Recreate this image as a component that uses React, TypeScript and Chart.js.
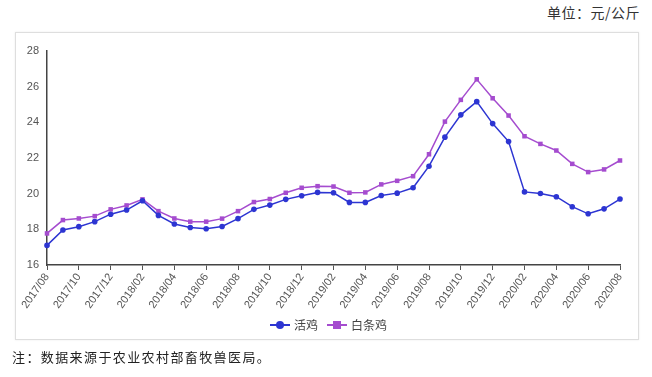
import React, { useEffect, useRef } from "react";
import { Chart, registerables } from "chart.js";

Chart.register(...registerables);

const months: string[] = [
  "2017/08", "2017/09", "2017/10", "2017/11", "2017/12", "2018/01", "2018/02",
  "2018/03", "2018/04", "2018/05", "2018/06", "2018/07", "2018/08", "2018/09",
  "2018/10", "2018/11", "2018/12", "2019/01", "2019/02", "2019/03", "2019/04",
  "2019/05", "2019/06", "2019/07", "2019/08", "2019/09", "2019/10", "2019/11",
  "2019/12", "2020/01", "2020/02", "2020/03", "2020/04", "2020/05", "2020/06",
  "2020/07", "2020/08",
];

const liveChicken: number[] = [
  17.1, 17.96, 18.15, 18.43, 18.85, 19.08, 19.6, 18.78, 18.3, 18.1, 18.03, 18.16,
  18.6, 19.12, 19.36, 19.68, 19.88, 20.07, 20.05, 19.51, 19.51, 19.9, 20.03, 20.33,
  21.54, 23.17, 24.42, 25.16, 23.93, 22.92, 20.1, 20.01, 19.83, 19.27, 18.87, 19.15,
  19.7,
];

const whiteChicken: number[] = [
  17.77, 18.52, 18.61, 18.74, 19.12, 19.34, 19.68, 19.02, 18.61, 18.43, 18.43, 18.6,
  19.02, 19.53, 19.7, 20.05, 20.33, 20.42, 20.4, 20.05, 20.07, 20.52, 20.72, 20.98,
  22.21, 24.04, 25.26, 26.41, 25.35, 24.38, 23.22, 22.79, 22.42, 21.67, 21.21, 21.36,
  21.86,
];

const seriesNames: string[] = ["活鸡", "白条鸡"];
const seriesColors: string[] = ["#2d35d2", "#a54ccf"];
const title = "单位：元/公斤";
const note = "注：数据来源于农业农村部畜牧兽医局。";

export default function App() {
  const ref = useRef<HTMLCanvasElement | null>(null);

  useEffect(() => {
    document.body.style.margin = "0";
    const canvas = ref.current;
    if (!canvas) return;
    const chart = new Chart(canvas, {
      type: "line",
      data: {
        labels: months,
        datasets: [
          {
            label: seriesNames[0],
            data: liveChicken,
            borderColor: seriesColors[0],
            backgroundColor: seriesColors[0],
            borderWidth: 1.5,
            pointStyle: "circle",
            pointRadius: 2.8,
            pointBorderWidth: 0,
            tension: 0,
          },
          {
            label: seriesNames[1],
            data: whiteChicken,
            borderColor: seriesColors[1],
            backgroundColor: seriesColors[1],
            borderWidth: 1.5,
            pointStyle: "rect",
            pointRadius: 3.2,
            pointBorderWidth: 0,
            tension: 0,
          },
        ],
      },
      options: {
        animation: false,
        responsive: false,
        devicePixelRatio: 1,
        layout: { padding: { left: 0, right: 32, top: 51, bottom: 0 } },
        plugins: {
          legend: { display: false },
          tooltip: { enabled: false },
        },
        scales: {
          x: {
            type: "category",
            offset: false,
            grid: {
              display: true,
              drawOnChartArea: false,
              drawTicks: true,
              tickLength: 5,
              color: "#555",
            },
            border: { display: true, color: "#444", width: 1.5 },
            ticks: {
              autoSkip: false,
              maxRotation: 55,
              minRotation: 55,
              padding: 1,
              color: "#555",
              font: { family: "'Liberation Sans', Arial, sans-serif", size: 11 },
              callback: (_v: any, i: number) => (i % 2 === 0 ? months[i] : null),
            },
            afterFit: (s: any) => {
              s.height = 112;
            },
          },
          y: {
            min: 16,
            max: 28,
            grid: { display: false, drawTicks: false },
            border: { display: true, color: "#444", width: 1.5 },
            ticks: {
              stepSize: 2,
              padding: 8,
              color: "#555",
              font: { family: "'Liberation Sans', Arial, sans-serif", size: 11 },
            },
            afterFit: (s: any) => {
              s.width = 47;
            },
          },
        },
      },
    });
    return () => chart.destroy();
  }, []);

  const legendItem = (name: string, color: string, square: boolean) => (
    <span style={{ display: "inline-flex", alignItems: "center", marginRight: 9 }}>
      <span style={{ position: "relative", width: 20, height: 10, display: "inline-block" }}>
        <span
          style={{
            position: "absolute",
            left: 0,
            top: 4,
            width: 20,
            height: 2,
            background: color,
          }}
        />
        <span
          style={{
            position: "absolute",
            left: square ? 6 : 6,
            top: square ? 1 : 1,
            width: 8,
            height: 8,
            borderRadius: square ? 0 : 4,
            background: color,
          }}
        />
      </span>
      <span style={{ marginLeft: 4 }}>{name}</span>
    </span>
  );

  return (
    <div
      style={{
        position: "absolute",
        left: 0,
        top: 0,
        width: 652,
        height: 377,
        background: "#fff",
        fontFamily: "'Noto Sans CJK SC', sans-serif",
        overflow: "hidden",
      }}
    >
      <div
        style={{
          position: "absolute",
          right: 12,
          top: 2,
          fontSize: 14,
          color: "#333",
          letterSpacing: 0.5,
        }}
      >
        {title}
      </div>
      <div
        style={{
          position: "absolute",
          left: 15,
          top: 32,
          width: 622,
          height: 306,
          border: "1px solid #dedede",
          boxShadow: "0 0 2px rgba(0,0,0,0.08)",
        }}
      />
      <canvas
        ref={ref}
        width={652}
        height={377}
        style={{ position: "absolute", left: 0, top: 0, width: 652, height: 377 }}
      />
      <div
        style={{
          position: "absolute",
          left: 270,
          top: 316,
          fontSize: 12,
          color: "#444",
          display: "flex",
          alignItems: "center",
          whiteSpace: "nowrap",
        }}
      >
        {legendItem(seriesNames[0], seriesColors[0], false)}
        {legendItem(seriesNames[1], seriesColors[1], true)}
      </div>
      <div
        style={{
          position: "absolute",
          left: 12,
          top: 347,
          fontSize: 13,
          letterSpacing: 1.4,
          color: "#222",
          whiteSpace: "nowrap",
        }}
      >
        {note}
      </div>
    </div>
  );
}
